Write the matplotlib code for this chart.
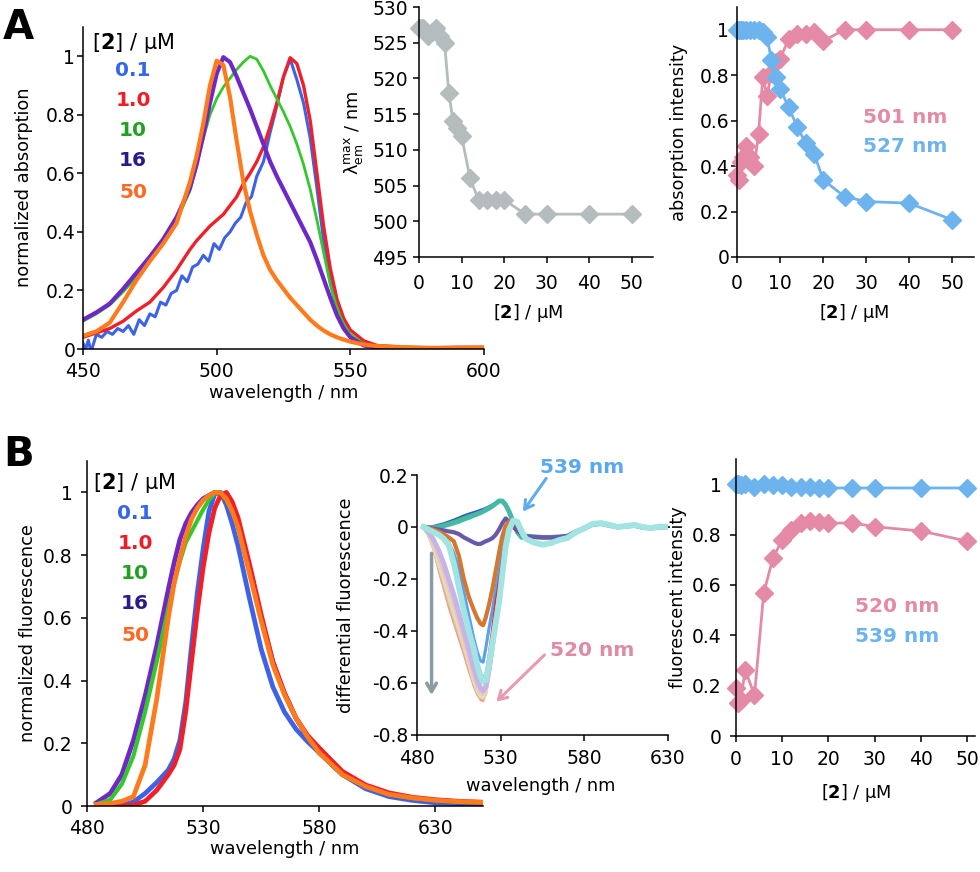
import matplotlib
matplotlib.use('Agg')
import matplotlib.pyplot as plt
from matplotlib.ticker import FuncFormatter

plt.rcParams['font.family'] = ['DejaVu Sans']
plt.rcParams['axes.unicode_minus'] = False

# ---------------- DATA ----------------
# A1: normalized absorption spectra
A_WL = [450, 455, 460, 465, 470, 475, 480, 485, 490, 492.5, 495, 497.5, 500, 502.5, 505,
        507.5, 510, 512.5, 515, 517.5, 520, 522.5, 525, 527.5, 530, 532.5, 535, 537.5, 540,
        542.5, 545, 547.5, 550, 555, 560, 570, 580, 590, 600]
A_ABS_16 = [0.10, 0.125, 0.155, 0.205, 0.26, 0.315, 0.375, 0.45, 0.55, 0.63, 0.73, 0.84, 0.94,
            0.997, 0.98, 0.93, 0.875, 0.82, 0.76, 0.70, 0.64, 0.59, 0.545, 0.50, 0.455, 0.41,
            0.365, 0.305, 0.24, 0.175, 0.115, 0.07, 0.04, 0.012, 0.004, 0.002, 0.0, 0.003, 0.002]
A_ABS_10 = [0.095, 0.12, 0.15, 0.195, 0.245, 0.30, 0.36, 0.44, 0.54, 0.63, 0.72, 0.80, 0.855,
            0.895, 0.925, 0.955, 0.98, 1.0, 0.99, 0.95, 0.90, 0.855, 0.81, 0.76, 0.70, 0.63,
            0.545, 0.44, 0.33, 0.22, 0.14, 0.085, 0.05, 0.018, 0.006, 0.002, 0.001, 0.002, 0.002]
A_ABS_1 = [0.04, 0.055, 0.07, 0.095, 0.13, 0.16, 0.21, 0.27, 0.34, 0.37, 0.395, 0.42, 0.44,
           0.46, 0.49, 0.52, 0.565, 0.60, 0.64, 0.69, 0.76, 0.84, 0.93, 0.995, 0.975, 0.90,
           0.78, 0.60, 0.42, 0.275, 0.17, 0.105, 0.065, 0.028, 0.012, 0.006, 0.004, 0.006, 0.006]
A_ABS_50 = [0.045, 0.06, 0.09, 0.16, 0.235, 0.30, 0.36, 0.43, 0.57, 0.66, 0.77, 0.90, 0.985,
            0.97, 0.86, 0.71, 0.57, 0.47, 0.39, 0.32, 0.27, 0.235, 0.205, 0.175, 0.15, 0.125,
            0.10, 0.08, 0.063, 0.05, 0.04, 0.032, 0.025, 0.015, 0.01, 0.006, 0.004, 0.004, 0.005]
A_WL_01 = [450, 451, 452, 453, 455, 457, 459, 461, 463, 465, 467, 469, 471, 473, 475, 477, 479,
           481, 483, 485, 487, 489, 491, 493, 495, 497, 499, 501, 503, 505, 507, 509, 511, 513,
           515, 517.5, 520, 522.5, 525, 527.5, 530, 532.5, 535, 537.5, 540, 542.5, 545, 547.5,
           550, 555, 560, 570, 580, 590, 600]
A_ABS_01 = [0.02, 0.0, 0.03, -0.01, 0.05, 0.04, 0.06, 0.05, 0.07, 0.06, 0.08, 0.05, 0.10, 0.08,
            0.12, 0.11, 0.16, 0.15, 0.19, 0.20, 0.25, 0.23, 0.28, 0.29, 0.32, 0.30, 0.36, 0.34,
            0.38, 0.40, 0.43, 0.45, 0.50, 0.52, 0.59, 0.64, 0.74, 0.83, 0.93, 0.99, 0.92, 0.84,
            0.72, 0.55, 0.37, 0.23, 0.13, 0.075, 0.04, 0.012, 0.003, 0.0, 0.002, 0.003, 0.003]

# A2: emission maximum vs [2]
A2_CONC = [0, 0.5, 1, 2, 3, 4, 5, 6, 7, 8, 9, 10, 12, 14, 16, 18, 20, 25, 30, 40, 50]
A2_LMAX = [527, 527, 527, 526, 526.5, 527, 526, 525, 518, 514, 513, 512, 506, 503, 503, 503,
           503, 501, 501, 501, 501]

# A3: absorption intensity vs [2]
A3_CONC = [0, 0.5, 1, 1.5, 2, 3, 4, 5, 6, 7, 8, 9, 10, 12, 14, 16, 18, 20, 25, 30, 40, 50]
A3_501 = [0.36, 0.34, 0.42, 0.44, 0.49, 0.44, 0.40, 0.54, 0.79, 0.71, 0.81, 0.86, 0.87, 0.96,
          0.98, 0.98, 0.99, 0.95, 1.0, 1.0, 1.0, 1.0]
A3_527 = [1.0, 1.0, 1.0, 1.0, 1.0, 1.0, 1.0, 1.0, 0.99, 0.97, 0.865, 0.79, 0.74, 0.66, 0.573,
          0.50, 0.453, 0.34, 0.266, 0.244, 0.237, 0.164]

# B1: normalized fluorescence spectra
B_WL = [484, 490, 495, 500, 505, 510, 515, 517.5, 520, 522.5, 525, 527.5, 530, 532.5, 535,
        537.5, 540, 542.5, 545, 550, 555, 560, 565, 570, 575, 580, 590, 600, 610, 620, 630,
        640, 650]
B_FL_01 = [0.0, 0.0, 0.002, 0.013, 0.04, 0.075, 0.115, 0.15, 0.21, 0.33, 0.51, 0.68, 0.82,
           0.94, 0.995, 1.0, 0.96, 0.90, 0.83, 0.66, 0.50, 0.38, 0.30, 0.245, 0.205, 0.17, 0.10,
           0.055, 0.03, 0.018, 0.01, 0.007, 0.005]
B_FL_1 = [0.0, 0.0, 0.0, 0.003, 0.015, 0.05, 0.10, 0.13, 0.18, 0.30, 0.46, 0.62, 0.76, 0.87,
          0.95, 0.99, 1.0, 0.97, 0.92, 0.77, 0.61, 0.46, 0.36, 0.28, 0.225, 0.185, 0.11, 0.067,
          0.042, 0.028, 0.02, 0.015, 0.012]
B_FL_10 = [0.005, 0.02, 0.07, 0.16, 0.30, 0.46, 0.63, 0.71, 0.78, 0.84, 0.875, 0.91, 0.945,
           0.975, 0.998, 0.995, 0.975, 0.94, 0.895, 0.75, 0.60, 0.46, 0.36, 0.28, 0.22, 0.17,
           0.10, 0.062, 0.037, 0.025, 0.018, 0.013, 0.01]
B_FL_16 = [0.01, 0.04, 0.10, 0.21, 0.35, 0.51, 0.69, 0.775, 0.85, 0.90, 0.935, 0.96, 0.98,
           0.99, 1.0, 0.995, 0.975, 0.94, 0.895, 0.75, 0.60, 0.46, 0.36, 0.28, 0.22, 0.17, 0.10,
           0.062, 0.037, 0.025, 0.018, 0.013, 0.01]
B_FL_50 = [0.005, 0.008, 0.015, 0.03, 0.13, 0.34, 0.60, 0.71, 0.79, 0.86, 0.915, 0.95, 0.975,
           0.99, 1.0, 0.998, 0.98, 0.94, 0.89, 0.74, 0.59, 0.45, 0.355, 0.28, 0.22, 0.17, 0.10,
           0.062, 0.037, 0.026, 0.018, 0.014, 0.012]

# B2: differential fluorescence spectra (head up to 542.5 nm + shared tail)
D_WL_HEAD = [484, 487, 490, 493, 496, 499, 502, 505, 508, 511, 514, 516, 518, 519.5, 521, 523,
             525, 527, 529, 531, 533, 535, 537.5, 540, 542.5]
D_WL_TAIL = [545, 550, 555, 560, 565, 570, 575, 580, 585, 590, 595, 600, 605, 610, 615, 620,
             625, 630]
D_TAIL_POS = [-0.035, -0.038, -0.04, -0.04, -0.038, -0.035, -0.018, -0.005, 0.01, 0.013, 0.006,
              0.0, 0.003, 0.006, -0.002, -0.004, 0.0, 0.0]
D_TAIL_NEG = [-0.045, -0.06, -0.068, -0.062, -0.05, -0.042, -0.02, -0.005, 0.012, 0.015, 0.008,
              0.0, 0.004, 0.008, 0.0, -0.004, 0.002, 0.0]
D_POS_BLUE = [0.0, 0.0, 0.003, 0.008, 0.013, 0.02, 0.027, 0.035, 0.043, 0.05, 0.056, 0.06, 0.065,
              0.068, 0.072, 0.078, 0.085, 0.092, 0.10, 0.10, 0.085, 0.06, 0.02, -0.015, -0.035]
D_POS_GREEN = [0.0, -0.002, 0.001, 0.005, 0.01, 0.016, 0.022, 0.03, 0.037, 0.044, 0.05, 0.054,
               0.058, 0.062, 0.066, 0.073, 0.08, 0.09, 0.098, 0.098, 0.085, 0.06, 0.02, -0.018,
               -0.038]
D_POS_TEAL = [0.0, -0.003, -0.002, 0.0, 0.005, 0.01, 0.016, 0.022, 0.03, 0.037, 0.045, 0.05,
              0.055, 0.06, 0.065, 0.072, 0.08, 0.09, 0.10, 0.10, 0.085, 0.06, 0.02, -0.02, -0.04]
D_PURPLE = [0.0, -0.003, -0.006, -0.01, -0.013, -0.017, -0.02, -0.027, -0.04, -0.05, -0.06,
            -0.065, -0.065, -0.06, -0.055, -0.05, -0.043, -0.03, -0.01, 0.015, 0.033, 0.02, 0.0,
            -0.015, -0.025]
D_OUTER = [0.0, -0.035, -0.09, -0.17, -0.24, -0.31, -0.37, -0.43, -0.49, -0.555, -0.615, -0.645,
           -0.665, -0.67, -0.645, -0.565, -0.47, -0.38, -0.30, -0.18, -0.08, -0.015, 0.02, 0.01,
           -0.025]
D_PEACH = [0.0, -0.032, -0.082, -0.155, -0.22, -0.29, -0.35, -0.41, -0.47, -0.535, -0.6, -0.635,
           -0.655, -0.662, -0.64, -0.565, -0.47, -0.38, -0.30, -0.18, -0.08, -0.015, 0.02, 0.01,
           -0.025]
D_YGREEN = [0.0, -0.03, -0.075, -0.14, -0.20, -0.265, -0.33, -0.39, -0.455, -0.52, -0.59,
            -0.625, -0.65, -0.655, -0.635, -0.56, -0.465, -0.375, -0.295, -0.178, -0.078,
            -0.013, 0.02, 0.012, -0.022]
D_LPINK = [0.0, -0.025, -0.062, -0.115, -0.17, -0.23, -0.295, -0.36, -0.43, -0.5, -0.57, -0.61,
           -0.635, -0.642, -0.625, -0.555, -0.462, -0.372, -0.292, -0.176, -0.077, -0.012, 0.021,
           0.012, -0.022]
D_LAVENDER = [0.0, -0.02, -0.05, -0.09, -0.14, -0.20, -0.26, -0.33, -0.40, -0.47, -0.545, -0.59,
              -0.62, -0.63, -0.615, -0.55, -0.46, -0.37, -0.29, -0.175, -0.076, -0.012, 0.022,
              0.014, -0.02]
D_BLUE = [0.0, -0.005, -0.015, -0.025, -0.04, -0.06, -0.10, -0.16, -0.25, -0.34, -0.43, -0.48,
          -0.515, -0.52, -0.47, -0.39, -0.32, -0.24, -0.17, -0.09, -0.03, 0.005, 0.02, 0.01,
          -0.02]
D_RED = [0.0, -0.005, -0.015, -0.03, -0.05, -0.08, -0.13, -0.2, -0.3, -0.39, -0.48, -0.53,
         -0.565, -0.575, -0.565, -0.48, -0.38, -0.28, -0.2, -0.11, -0.04, 0.0, 0.02, 0.01, -0.02]
D_BROWN = [0.0, -0.005, -0.01, -0.018, -0.028, -0.04, -0.055, -0.11, -0.20, -0.27, -0.32,
           -0.35, -0.372, -0.378, -0.35, -0.30, -0.24, -0.17, -0.10, -0.035, 0.005, 0.02, 0.025,
           0.01, -0.02]
D_CYAN = [0.0, -0.01, -0.02, -0.03, -0.045, -0.07, -0.14, -0.23, -0.32, -0.40, -0.47, -0.53,
          -0.575, -0.595, -0.59, -0.53, -0.45, -0.37, -0.29, -0.18, -0.075, -0.01, 0.025, 0.02,
          -0.015]

# B3: fluorescent intensity vs [2]
B3_CONC = [0, 0.5, 1, 2, 4, 6, 8, 10, 12, 14, 16, 18, 20, 25, 30, 40, 50]
B3_520 = [0.19, 0.13, 0.142, 0.262, 0.162, 0.568, 0.707, 0.78, 0.818, 0.847, 0.854, 0.85, 0.844,
          0.847, 0.831, 0.814, 0.774]
B3_539 = [1.0, 1.0, 0.995, 1.0, 0.99, 1.0, 0.995, 0.995, 0.99, 0.99, 0.99, 0.985, 0.985, 0.985,
          0.985, 0.985, 0.985]

CONC_LABELS = ['0.1', '1.0', '10', '16', '50']
LABEL_COLORS = ['#3366ee', '#ee1c25', '#22a022', '#2b1b8a', '#ff6820']

C_BLUE, C_RED, C_GREEN, C_PURPLE, C_ORANGE = '#3d62e8', '#f0202a', '#35c82a', '#6e28c8', '#ff7a1a'
C_PINK, C_SKY, C_GRAY = '#e48aa6', '#6db3ee', '#b5bcbd'

TICK_FS = 13.5
LABEL_FS = 12.8
MS = 9

# ---------------- PLOT ----------------
fig = plt.figure(figsize=(9.8, 8.72), dpi=100)


def pos(l, t, r, b):
    return [l / 980, 1 - b / 872, (r - l) / 980, (b - t) / 872]


def style(ax, xpad, ypad):
    for s in ['top', 'right']:
        ax.spines[s].set_visible(False)
    for s in ['left', 'bottom']:
        ax.spines[s].set_linewidth(1.1)
    ax.tick_params(direction='out', length=4, width=1.1, labelsize=TICK_FS)
    ax.tick_params(axis='x', pad=xpad)
    ax.tick_params(axis='y', pad=ypad)
    fmt = FuncFormatter(lambda v, p: f'{v:g}')
    ax.xaxis.set_major_formatter(fmt)
    ax.yaxis.set_major_formatter(fmt)


CONC_TXT = r'[$\mathbf{2}$] / μM'

# A1
ax = fig.add_axes(pos(83, 27, 484, 349))
ax.plot(A_WL_01, A_ABS_01, color=C_BLUE, lw=2.2)
ax.plot(A_WL, A_ABS_1, color=C_RED, lw=2.4)
ax.plot(A_WL, A_ABS_10, color=C_GREEN, lw=2.0)
ax.plot(A_WL, A_ABS_16, color=C_PURPLE, lw=3.0)
ax.plot(A_WL, A_ABS_50, color=C_ORANGE, lw=3.0)
ax.set_xlim(450, 600)
ax.set_ylim(0, 1.1)
ax.set_xticks([450, 500, 550, 600])
ax.set_yticks([0, 0.2, 0.4, 0.6, 0.8, 1])
style(ax, 5.5, 1.5)
ax.set_ylabel('normalized absorption', fontsize=LABEL_FS)
ax.yaxis.set_label_coords(-0.125, 0.503)
ax.set_xlabel('wavelength / nm', fontsize=LABEL_FS)
ax.xaxis.set_label_coords(0.5, -0.11)
ax.text(453.4, 1.044, CONC_TXT, fontsize=15, va='center', ha='left')
for lab, col, yv in zip(CONC_LABELS, LABEL_COLORS, [0.952, 0.85, 0.747, 0.645, 0.536]):
    ax.text(468.7, yv, lab, color=col, fontsize=14.5, fontweight='bold', ha='center', va='center')

# A2
ax = fig.add_axes(pos(419, 7, 653, 257))
ax.plot(A2_CONC, A2_LMAX, color=C_GRAY, lw=2, marker='D', ms=MS, clip_on=False)
ax.set_xlim(0, 55)
ax.set_ylim(495, 530)
ax.set_xticks([0, 10, 20, 30, 40, 50])
ax.set_yticks(range(495, 531, 5))
style(ax, 8, 4)
ax.set_ylabel(r'$\mathregular{λ_{em}^{max}}$ / nm', fontsize=LABEL_FS)
ax.yaxis.set_label_coords(-0.23, 0.496)
ax.set_xlabel(CONC_TXT, fontsize=LABEL_FS)
ax.xaxis.set_label_coords(0.466, -0.18)

# A3
ax = fig.add_axes(pos(737, 7, 973.5, 257))
ax.plot(A3_CONC, A3_501, color=C_PINK, lw=2, marker='D', ms=MS, clip_on=False)
ax.plot(A3_CONC, A3_527, color=C_SKY, lw=2, marker='D', ms=MS, clip_on=False)
ax.set_xlim(0, 55)
ax.set_ylim(0, 1.1)
ax.set_xticks([0, 10, 20, 30, 40, 50])
ax.set_yticks([0, 0.2, 0.4, 0.6, 0.8, 1])
style(ax, 8, 1.5)
ax.set_ylabel('absorption intensity', fontsize=LABEL_FS)
ax.yaxis.set_label_coords(-0.207, 0.5)
ax.set_xlabel(CONC_TXT, fontsize=LABEL_FS)
ax.xaxis.set_label_coords(0.495, -0.18)
ax.text(39.1, 0.614, '501 nm', color=C_PINK, fontsize=14.5, fontweight='bold', ha='center', va='center')
ax.text(39.1, 0.487, '527 nm', color=C_SKY, fontsize=14.5, fontweight='bold', ha='center', va='center')

# B1
ax = fig.add_axes(pos(87, 461, 483, 806))
ax.plot(B_WL, B_FL_01, color=C_BLUE, lw=3.4)
ax.plot(B_WL, B_FL_16, color=C_PURPLE, lw=3.4)
ax.plot(B_WL, B_FL_10, color=C_GREEN, lw=3.0)
ax.plot(B_WL, B_FL_1, color=C_RED, lw=3.4)
ax.plot(B_WL, B_FL_50, color=C_ORANGE, lw=3.4)
ax.set_xlim(480, 650.5)
ax.set_ylim(0, 1.1)
ax.set_xticks([480, 530, 580, 630])
ax.set_yticks([0, 0.2, 0.4, 0.6, 0.8, 1])
style(ax, 5.5, 6.5)
ax.set_ylabel('normalized fluorescence', fontsize=LABEL_FS)
ax.yaxis.set_label_coords(-0.126, 0.5)
ax.set_xlabel('wavelength / nm', fontsize=LABEL_FS)
ax.xaxis.set_label_coords(0.5, -0.099)
ax.text(482.6, 1.029, CONC_TXT, fontsize=15, va='center', ha='left')
for lab, col, yv in zip(CONC_LABELS, LABEL_COLORS, [0.933, 0.838, 0.742, 0.646, 0.545]):
    ax.text(500.7, yv, lab, color=col, fontsize=14.5, fontweight='bold', ha='center', va='center')

# B2
ax = fig.add_axes(pos(417, 475, 668, 735))
d_wl = D_WL_HEAD + D_WL_TAIL
diff_curves = [
    (D_POS_BLUE, D_TAIL_POS, '#2f4fe0', 2.0),
    (D_POS_GREEN, D_TAIL_POS, '#33c033', 2.0),
    (D_POS_TEAL, D_TAIL_POS, '#45b8a6', 3.5),
    (D_PURPLE, D_TAIL_POS, '#6a58a8', 3.0),
    (D_OUTER, D_TAIL_NEG, '#f29a6a', 1.5),
    (D_PEACH, D_TAIL_NEG, '#f4a8ba', 2.5),
    (D_YGREEN, D_TAIL_NEG, '#d6e8a6', 3.0),
    (D_LPINK, D_TAIL_NEG, '#f2bfd2', 3.0),
    (D_LAVENDER, D_TAIL_NEG, '#c6b4e4', 3.5),
    (D_BLUE, D_TAIL_NEG, '#5aa0f0', 2.2),
    (D_RED, D_TAIL_NEG, '#e03030', 1.2),
    (D_BROWN, D_TAIL_NEG, '#d4782f', 3.0),
    (D_CYAN, D_TAIL_NEG, '#a2e4e2', 4.2),
]
for head, tail, col, lw in diff_curves:
    ax.plot(d_wl, head + tail, color=col, lw=lw)
ax.set_xlim(480, 630)
ax.set_ylim(-0.8, 0.2)
ax.set_xticks([480, 530, 580, 630])
ax.set_yticks([-0.8, -0.6, -0.4, -0.2, 0, 0.2])
style(ax, 6, 2)
ax.set_ylabel('differential fluorescence', fontsize=LABEL_FS)
ax.yaxis.set_label_coords(-0.247, 0.5)
ax.set_xlabel('wavelength / nm', fontsize=LABEL_FS)
ax.xaxis.set_label_coords(0.494, -0.16)
ax.annotate('', xy=(488.7, -0.646), xytext=(488.7, -0.101),
            arrowprops=dict(arrowstyle='->,head_length=0.6,head_width=0.35', color='#8a9ca3',
                            lw=2.5, shrinkA=0, shrinkB=0))
ax.annotate('', xy=(543.3, 0.059), xytext=(557.2, 0.187), annotation_clip=False,
            arrowprops=dict(arrowstyle='->,head_length=0.6,head_width=0.35', color='#62aaf0',
                            lw=2.2, shrinkA=0, shrinkB=0))
ax.annotate('', xy=(527.4, -0.672), xytext=(556.2, -0.492),
            arrowprops=dict(arrowstyle='->,head_length=0.6,head_width=0.35', color='#e89ab0',
                            lw=2.2, shrinkA=0, shrinkB=0))
ax.text(578.5, 0.229, '539 nm', color='#5aa8f0', fontsize=14.5, fontweight='bold',
        ha='center', va='center', clip_on=False)
ax.text(584.5, -0.475, '520 nm', color='#e08aa5', fontsize=14.5, fontweight='bold',
        ha='center', va='center')

# B3
ax = fig.add_axes(pos(736, 459, 975, 736))
ax.plot(B3_CONC, B3_520, color=C_PINK, lw=2, marker='D', ms=MS, clip_on=False)
ax.plot(B3_CONC, B3_539, color=C_SKY, lw=2, marker='D', ms=MS, clip_on=False)
ax.set_xlim(0, 51.7)
ax.set_ylim(0, 1.1)
ax.set_xticks([0, 10, 20, 30, 40, 50])
ax.set_yticks([0, 0.2, 0.4, 0.6, 0.8, 1])
style(ax, 6, 6.5)
ax.set_ylabel('fluorescent intensity', fontsize=LABEL_FS)
ax.yaxis.set_label_coords(-0.205, 0.5)
ax.set_xlabel(CONC_TXT, fontsize=LABEL_FS)
ax.xaxis.set_label_coords(0.502, -0.166)
ax.text(34.8, 0.514, '520 nm', color=C_PINK, fontsize=14.5, fontweight='bold', ha='center', va='center')
ax.text(34.8, 0.394, '539 nm', color=C_SKY, fontsize=14.5, fontweight='bold', ha='center', va='center')

# panel letters
fig.text(3 / 980, 1 - 39 / 872, 'A', fontsize=29, fontweight='bold', va='baseline')
fig.text(3 / 980, 1 - 466 / 872, 'B', fontsize=29, fontweight='bold', va='baseline')

fig.savefig('out.png', dpi=100)
